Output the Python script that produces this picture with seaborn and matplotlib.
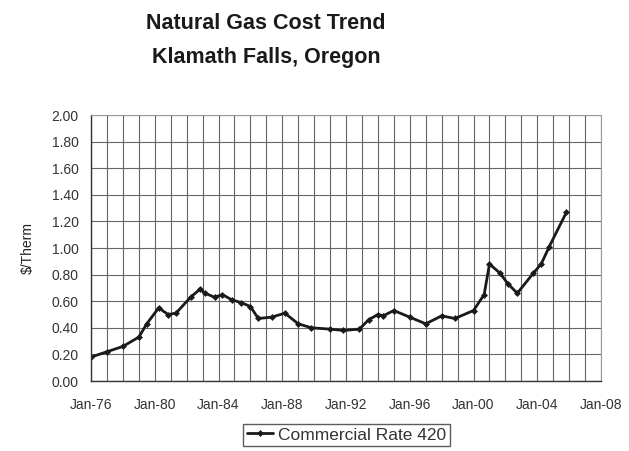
import pandas as pd
import numpy as np
import matplotlib
matplotlib.use('Agg')
import matplotlib.pyplot as plt
import matplotlib.dates as mdates
import seaborn as sns

# readings (month of reading, $/therm)
dates = ['1976-01', '1977-01', '1978-01', '1979-01', '1979-07', '1980-04',
         '1980-11', '1981-05', '1982-04', '1982-11', '1983-03', '1983-10',
         '1984-04', '1984-11', '1985-06', '1986-01', '1986-07', '1987-05',
         '1988-03', '1989-01', '1989-11', '1991-01', '1991-11', '1992-11',
         '1993-06', '1994-01', '1994-05', '1995-01', '1996-01', '1997-01',
         '1998-01', '1998-11', '2000-01', '2000-09', '2001-01', '2001-09',
         '2002-03', '2002-10', '2003-10', '2004-04', '2004-10', '2005-11']
rates = [0.18, 0.22, 0.26, 0.33, 0.43, 0.55,
         0.50, 0.51, 0.63, 0.69, 0.66, 0.63,
         0.65, 0.61, 0.59, 0.56, 0.47, 0.48,
         0.51, 0.43, 0.40, 0.39, 0.38, 0.39,
         0.46, 0.50, 0.49, 0.53, 0.48, 0.43,
         0.49, 0.47, 0.53, 0.65, 0.88, 0.81,
         0.73, 0.66, 0.81, 0.88, 1.01, 1.27]
series_name = 'Commercial Rate 420'
y_ticks = [0.0, 0.2, 0.4, 0.6, 0.8, 1.0, 1.2, 1.4, 1.6, 1.8, 2.0]

df = pd.DataFrame({'date': pd.to_datetime(dates), 'rate': rates})

sns.set_style('white')
plt.rcParams['font.family'] = ['Liberation Sans', 'DejaVu Sans']

fig = plt.figure(figsize=(6.29, 4.51), dpi=100)
ax = fig.add_axes([0.1447, 0.1552, 0.8108, 0.5898])

sns.lineplot(data=df, x='date', y='rate', ax=ax, color='#1a1a1a',
             linewidth=2, marker='D', markersize=3, markeredgecolor='#1a1a1a',
             markeredgewidth=0.5, label=series_name)

ax.set_xlim(pd.Timestamp('1976-01-01'), pd.Timestamp('2008-01-01'))
ax.set_ylim(0, 2.0)
ax.set_yticks(y_ticks)
ax.set_yticklabels([f'{v:.2f}' for v in y_ticks])
ax.xaxis.set_major_locator(mdates.YearLocator(4, month=1, day=1))
ax.xaxis.set_minor_locator(mdates.YearLocator(1, month=1, day=1))
ax.xaxis.set_major_formatter(mdates.DateFormatter('%b-%y'))

ax.grid(True, which='both', axis='x', color='#666666', linewidth=0.8)
ax.grid(True, which='major', axis='y', color='#666666', linewidth=0.8)
ax.set_axisbelow(True)

for side in ['left', 'bottom']:
    ax.spines[side].set_color('#333333')
    ax.spines[side].set_linewidth(1)
for side in ['top', 'right']:
    ax.spines[side].set_color('#999999')
    ax.spines[side].set_linewidth(0.8)

ax.tick_params(axis='both', which='major', direction='inout', length=6,
               width=1, color='#333333', labelsize=10, labelcolor='#333333')
ax.tick_params(axis='x', which='minor', direction='inout', length=4,
               width=0.8, color='#333333')
ax.tick_params(axis='x', pad=9)
ax.tick_params(axis='y', pad=6)

ax.set_xlabel('')
ax.set_ylabel('$/Therm', fontsize=10, color='#222222', labelpad=12)

fig.text(0.423, 0.948, 'Natural Gas Cost Trend', ha='center', va='center',
         fontsize=15.5, fontweight='bold', color='#1a1a1a')
fig.text(0.423, 0.873, 'Klamath Falls, Oregon', ha='center', va='center',
         fontsize=15.5, fontweight='bold', color='#1a1a1a')

leg = ax.legend(loc='center', bbox_to_anchor=(0.551, 0.0355),
                bbox_transform=fig.transFigure, frameon=True, fancybox=False,
                fontsize=12.5, handlelength=1.5, handletextpad=0.3,
                borderpad=0.2, edgecolor='#333333')
leg.get_frame().set_linewidth(1)
for t in leg.get_texts():
    t.set_color('#333333')

fig.savefig('out.png', dpi=100, facecolor='white')
